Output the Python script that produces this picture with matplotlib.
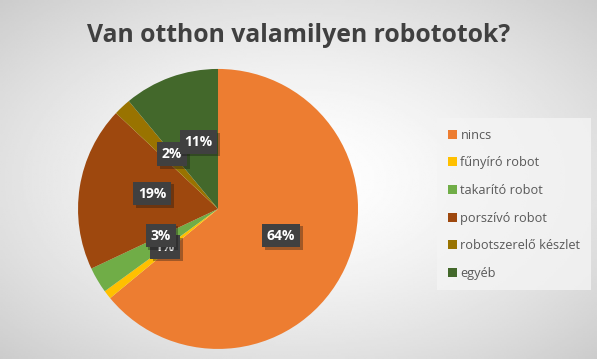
import numpy as np
import matplotlib.pyplot as plt
import matplotlib.patheffects as pe

labels = ['nincs', 'fűnyíró robot', 'takarító robot', 'porszívó robot',
          'robotszerelő készlet', 'egyéb']
values = [64, 1, 3, 19, 2, 11]
colors = ['#ED7D31', '#FFC000', '#70AD47', '#9E480E', '#997300', '#43682B']
# label positions (data coords, radius = 1), as placed in the original
label_pos = [(0.45, -0.19), (-0.38, -0.27), (-0.41, -0.19), (-0.47, 0.11),
             (-0.33, 0.39), (-0.14, 0.48)]

plt.rcParams['font.family'] = ['Open Sans', 'DejaVu Sans']

fig = plt.figure(figsize=(5.97, 3.59), dpi=100)

# radial grey background
bg = fig.add_axes([0, 0, 1, 1], zorder=-10)
yy, xx = np.mgrid[-1:1:200j, -1:1:330j]
r = np.sqrt(xx ** 2 + yy ** 2) / np.sqrt(2)
bg.imshow(1 - 0.2 * r ** 1.5, cmap='gray', vmin=0, vmax=1, aspect='auto',
          extent=[0, 1, 0, 1])
bg.axis('off')

ax = fig.add_axes([0.1307, 0.028, 0.469, 0.78])
wedges, _ = ax.pie(values, colors=colors, startangle=90, counterclock=False,
                   radius=1, wedgeprops=dict(linewidth=0))
ax.set_xlim(-1, 1)
ax.set_ylim(-1, 1)
ax.set_aspect('equal')

for v, (x, y) in zip(values, label_pos):
    t = ax.text(x, y, f'{v}%', ha='center', va='center', fontsize=10,
                fontweight='bold', color='white',
                bbox=dict(boxstyle='square,pad=0.35', fc='#404040', ec='none'))
    t.get_bbox_patch().set_path_effects(
        [pe.SimplePatchShadow(offset=(2, -2), alpha=0.35), pe.Normal()])

fig.text(0.5, 0.9, 'Van otthon valamilyen robototok?', ha='center', va='center',
         fontsize=17.8, fontweight='bold', color='#404040')

leg = fig.legend(wedges, labels, loc='upper left', bbox_to_anchor=(0.722, 0.688),
                 frameon=True, fancybox=False, fontsize=9.2, labelcolor='#595959',
                 handlelength=0.7, handleheight=0.7, handletextpad=0.3,
                 labelspacing=1.15, borderpad=0.8)
leg.get_frame().set_facecolor('#f4f4f4')
leg.get_frame().set_edgecolor('none')
leg.get_frame().set_alpha(0.8)

fig.savefig('out.png', dpi=100)
